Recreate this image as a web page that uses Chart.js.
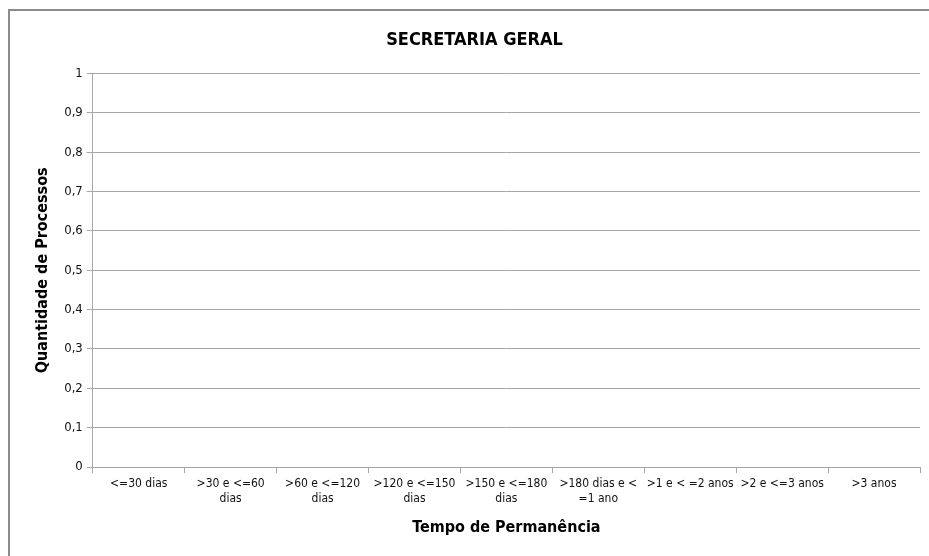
<!DOCTYPE html>
<html>
<head>
<meta charset="utf-8">
<script src="https://cdn.jsdelivr.net/npm/chart.js@4"></script>
<style>
  body { margin: 0; background: #fff; }
  #wrap { position: relative; width: 929px; height: 556px; overflow: hidden; }
  #frame { position: absolute; left: 8px; top: 9px; width: 940px; height: 580px; border: 2px solid #8c8c8c; }
  canvas { position: absolute; left: 0; top: 0; }
</style>
</head>
<body>
<div id="wrap">
  <div id="frame"></div>
  <canvas id="chart" width="929" height="556"></canvas>
</div>
<script>
// categorias (rótulos em várias linhas como no original)
const categorias = [
    "<=30 dias",
    [">30 e <=60", "dias"],
    [">60 e <=120", "dias"],
    [">120 e <=150", "dias"],
    [">150 e <=180", "dias"],
    [">180 dias e <", "=1 ano"],
    ">1 e < =2 anos",
    ">2 e <=3 anos",
    ">3 anos"
];
// nenhum processo em nenhuma faixa
const quantidades = [0, 0, 0, 0, 0, 0, 0, 0, 0];
const yMin = 0;
const yMax = 1;
const yPasso = 0.1;

const fonte = "'DejaVu Sans Condensed', 'Liberation Sans', sans-serif";
const cinza = "#a6a6a6";

new Chart(document.getElementById("chart"), {
    type: 'bar',
    data: {
        labels: categorias,
        datasets: [{
            label: "Quantidade",
            data: quantidades,
            backgroundColor: "#4f81bd"
        }]
    },
    options: {
        responsive: false,
        animation: false,
        layout: {
            padding: { left: 29, right: 9, top: 30, bottom: 15 }
        },
        plugins: {
            legend: { display: false },
            tooltip: { enabled: false },
            title: {
                display: true,
                text: "SECRETARIA GERAL",
                color: "#000",
                font: { family: fonte, size: 18, weight: 'bold' },
                padding: { top: 0, bottom: 22 }
            }
        },
        scales: {
            x: {
                grid: {
                    offset: true,
                    drawOnChartArea: false,
                    drawTicks: true,
                    tickLength: 6,
                    color: cinza
                },
                border: { color: cinza },
                ticks: {
                    color: "#111",
                    font: { family: fonte, size: 12 },
                    maxRotation: 0,
                    autoSkip: false,
                    padding: 4
                },
                title: {
                    display: true,
                    text: "Tempo de Permanência",
                    color: "#000",
                    font: { family: fonte, size: 16, weight: 'bold' },
                    padding: { top: 8 }
                }
            },
            y: {
                min: yMin,
                max: yMax,
                grid: {
                    color: cinza,
                    tickLength: 6
                },
                border: { color: cinza },
                ticks: {
                    stepSize: yPasso,
                    color: "#111",
                    font: { family: fonte, size: 13 },
                    padding: 4,
                    callback: v => (Math.round(v * 10) / 10).toString().replace(".", ",")
                },
                title: {
                    display: true,
                    text: "Quantidade de Processos",
                    color: "#000",
                    font: { family: fonte, size: 16, weight: 'bold' },
                    padding: { bottom: 8 }
                }
            }
        }
    }
});
</script>
</body>
</html>
